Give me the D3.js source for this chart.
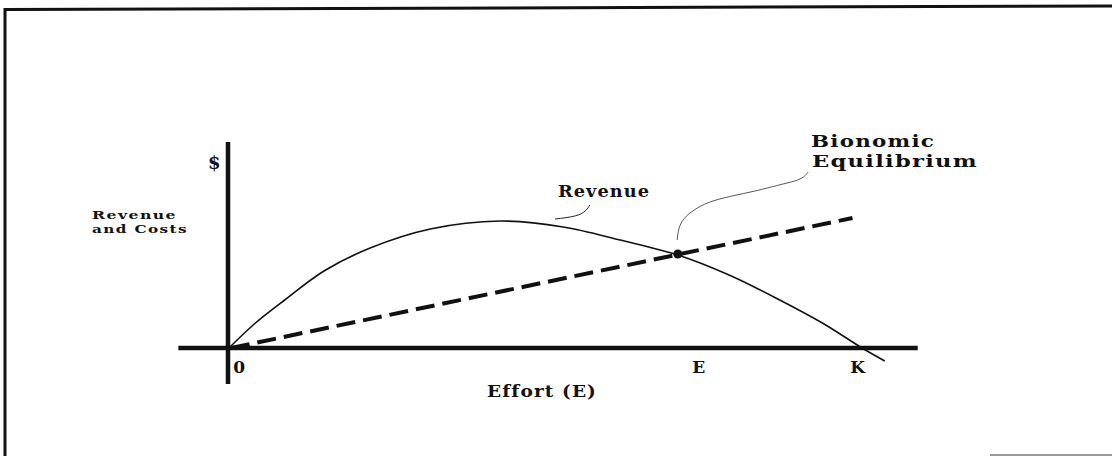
<!DOCTYPE html>
<html>
<head>
<meta charset="utf-8">
<script src="https://cdn.jsdelivr.net/npm/d3@7"></script>
<style>
  html, body { margin: 0; padding: 0; background: #fff; }
  svg text { font-family: "DejaVu Serif", "Liberation Serif", serif; font-weight: bold; fill: #111; }
</style>
</head>
<body>
<div id="chart"></div>
<script>
// revenue curve (effort 0..K=100, revenue units)
const revEffort = [0, 4, 8.8, 15, 22.3, 31.8, 42.8, 52.8, 61.8, 70.9, 79, 87, 94, 100, 103.6];
const revValue  = [0, 12, 24, 38.5, 50, 59.5, 63.5, 60.5, 54, 46.5, 36.5, 24, 12, 0, -6.5];

// total cost line (dashed)
const costEffort = [0.3, 98.5];
const costValue  = [0, 65];

// bionomic equilibrium
const eqEffort = 70.9;
const eqValue = 46.5;

// labels under the effort axis
const tickLabels = ["0", "E", "K"];
const tickAt = [1.7, 74.3, 99.4];

// axis extents
const xExtent = [-8, 108.8];
const yExtent = [-18, 103];

// leader lines for the annotations
const revLeader = [[51.5, 64.5], [54.3, 65.5], [56.2, 67.5], [57.0, 71.5]];
const eqLeader = [[70.8, 54], [71, 60], [71.8, 65], [73.4, 69], [75.6, 73], [79.3, 76], [83.3, 78.5],
  [86.8, 81.5], [89.6, 83.5], [90.9, 85.5], [91.5, 88]];

const width = 1112, height = 456;

const svg = d3.select("#chart").append("svg")
  .attr("width", width)
  .attr("height", height);

const x = d3.scaleLinear().domain([0, 100]).range([229, 862]);
const y = d3.scaleLinear().domain([0, 100]).range([348, 148]);

// scanned page frame
svg.append("path")
  .attr("d", "M5,456 L5,9.5 L1112,6")
  .attr("fill", "none")
  .attr("stroke", "#111")
  .attr("stroke-width", 3);
svg.append("line")
  .attr("x1", 990).attr("x2", 1112)
  .attr("y1", 455).attr("y2", 455)
  .attr("stroke", "#999")
  .attr("stroke-width", 2);

// axes
svg.append("line")
  .attr("x1", x(xExtent[0])).attr("x2", x(xExtent[1]))
  .attr("y1", y(0)).attr("y2", y(0))
  .attr("stroke", "#111").attr("stroke-width", 4.5);
svg.append("line")
  .attr("x1", x(0) - 1).attr("x2", x(0) - 1)
  .attr("y1", y(yExtent[0])).attr("y2", y(yExtent[1]))
  .attr("stroke", "#111").attr("stroke-width", 4.5);

// revenue curve
const revLine = d3.line()
  .x(d => x(d[0]))
  .y(d => y(d[1]))
  .curve(d3.curveCatmullRom);
svg.append("path")
  .datum(revEffort.map((e, i) => [e, revValue[i]]))
  .attr("d", revLine)
  .attr("fill", "none")
  .attr("stroke", "#111")
  .attr("stroke-width", 1.6);

// cost line
svg.append("path")
  .datum(costEffort.map((e, i) => [e, costValue[i]]))
  .attr("d", d3.line().x(d => x(d[0])).y(d => y(d[1])))
  .attr("fill", "none")
  .attr("stroke", "#111")
  .attr("stroke-width", 4)
  .attr("stroke-dasharray", "19,8");

// equilibrium dot
svg.append("circle")
  .attr("cx", x(eqEffort))
  .attr("cy", y(eqValue) - 1)
  .attr("r", 4.5)
  .attr("fill", "#111");

// leaders
const leader = d3.line().x(d => x(d[0])).y(d => y(d[1])).curve(d3.curveBasis);
svg.append("path").datum(revLeader).attr("d", leader)
  .attr("fill", "none").attr("stroke", "#222").attr("stroke-width", 1);
svg.append("path").datum(eqLeader).attr("d", leader)
  .attr("fill", "none").attr("stroke", "#444").attr("stroke-width", 0.9);

// text, stretched to the widths of the scanned lettering
const addText = (str, px, py, size, len, anchor) => {
  const t = svg.append("text")
    .attr("x", px).attr("y", py)
    .attr("font-size", size)
    .attr("letter-spacing", 1)
    .attr("text-anchor", anchor || "start")
    .text(str);
  if (len) t.attr("textLength", len).attr("lengthAdjust", "spacingAndGlyphs");
  return t;
};

// tick labels
tickLabels.forEach((d, i) => addText(d, x(tickAt[i]), 373, 17, null, "middle"));

addText("Effort (E)", 487, 397, 16.5, 110);
addText("$", 208, 169, 18);
addText("Revenue", 92, 219, 11, 85);
addText("and Costs", 92, 233, 11, 96);
addText("Revenue", 558, 197, 17, 92);
addText("Bionomic", 811, 147, 17.5, 124);
addText("Equilibrium", 812, 167, 17.5, 166);
</script>
</body>
</html>
